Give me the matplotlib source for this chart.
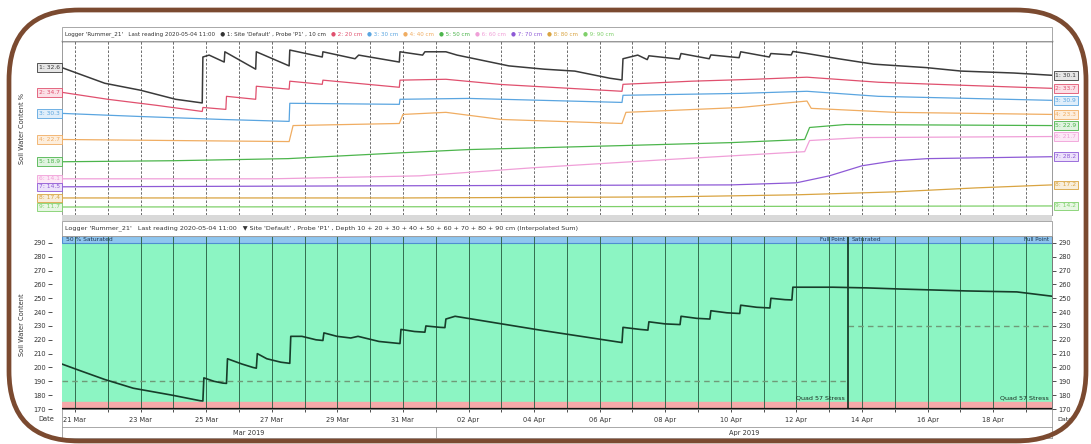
import numpy as np
import pandas as pd
import matplotlib
matplotlib.use("Agg")
import matplotlib.pyplot as plt
import matplotlib.dates as mdates
import matplotlib.ticker as mticker
import matplotlib.transforms as mtransforms
from matplotlib.patches import FancyBboxPatch, Rectangle

# ---- data (days after 21 Mar 2019 00:00) ----
start = pd.Timestamp("2019-03-21 00:00")
x_from = pd.Timestamp("2019-03-20 14:30")
x_to = pd.Timestamp("2019-04-19 19:00")

# bottom panel: interpolated sum, 10..90 cm
sum_days = [-0.40, 0.18, 0.91, 1.78, 2.96, 3.81, 3.90, 3.93, 4.24, 4.51, 4.62, 4.65, 5.09, 5.43,
            5.53, 5.56, 5.85, 6.28, 6.55, 6.58, 6.92, 7.35, 7.56, 7.59, 7.99, 8.41, 8.63, 9.27,
            9.82, 9.91, 9.94, 10.35, 10.67, 10.70, 11.13, 11.28, 11.31, 11.59, 14.18, 16.68,
            16.71, 17.23, 17.47, 17.50, 17.99, 18.45, 18.48, 18.96, 19.36, 19.39, 19.88, 20.27,
            20.30, 20.79, 21.19, 21.22, 21.65, 21.86, 21.89, 23.11, 24.15, 25.15, 27.20, 28.72,
            29.79]
sum_vals = [202.5, 197.5, 191.3, 185.0, 180.0, 176.0, 175.8, 192.5, 190.0, 188.7, 188.5, 206.3,
            202.5, 200.0, 199.5, 210.0, 206.3, 203.8, 203.0, 222.5, 222.5, 220.0, 219.5, 225.0,
            222.5, 221.3, 222.5, 218.8, 217.5, 217.3, 227.5, 226.0, 225.5, 230.0, 229.0, 228.8,
            235.0, 237.0, 227.0, 218.0, 229.0, 227.5, 227.0, 233.0, 231.5, 231.0, 237.0, 235.5,
            235.0, 241.0, 239.5, 239.0, 245.0, 243.5, 243.0, 250.0, 249.0, 248.8, 258.0, 258.0,
            257.5, 256.7, 255.3, 254.6, 251.5]

full_point = 290
stress_point = 175
change_day = 23.57
refill_before = 190
refill_after = 230

# top panel: each depth drawn on its own (normalised) scale, 0..100 of panel height
days_10 = [-0.40, 0.91, 2.00, 3.07, 3.88, 3.90, 4.09, 4.55, 4.57, 5.51, 5.53, 6.53, 6.55, 7.54,
           7.56, 8.54, 8.65, 9.89, 9.91, 10.60, 10.67, 11.31, 11.65, 13.23, 14.31, 15.24, 16.31,
           16.68, 16.71, 17.16, 17.45, 17.50, 18.43, 18.48, 19.34, 19.39, 20.25, 20.30, 21.17,
           21.22, 21.84, 21.89, 22.32, 23.28, 24.35, 25.96, 27.03, 28.63, 29.79]
pos_10 = [84.7, 75.7, 71.7, 66.5, 64.4, 90.8, 91.9, 87.9, 93.8, 83.8, 93.8, 85.7, 94.8, 90.8,
          93.8, 89.8, 91.9, 87.9, 93.8, 91.9, 93.8, 93.8, 91.9, 85.7, 83.8, 82.7, 78.6, 77.6,
          89.8, 91.9, 89.3, 91.5, 89.6, 92.8, 89.8, 92.0, 90.4, 93.8, 90.8, 92.8, 92.0, 94.0,
          92.8, 89.8, 86.7, 84.7, 82.7, 81.6, 80.3]
days_20 = [-0.40, 1.00, 2.50, 3.88, 3.90, 4.60, 4.62, 5.51, 5.53, 6.53, 6.55, 7.54, 7.56, 9.89,
           9.91, 11.31, 13.00, 16.68, 16.71, 18.80, 20.70, 22.32, 24.50, 27.00, 29.79]
pos_20 = [70.5, 66.5, 63.0, 59.5, 61.8, 60.7, 68.2, 66.5, 74.0, 72.3, 76.9, 75.1, 77.5, 73.4,
          77.5, 78.0, 75.0, 71.1, 75.1, 76.9, 78.0, 79.2, 76.3, 74.6, 72.8]
days_30 = [-0.40, 2.00, 4.50, 6.53, 6.55, 9.89, 9.91, 12.00, 16.68, 16.71, 20.30, 22.32, 24.50, 29.79]
pos_30 = [58.4, 56.6, 54.9, 53.8, 64.2, 63.6, 66.5, 67.0, 64.7, 68.8, 69.9, 71.1, 68.2, 65.9]
days_40 = [-0.40, 3.00, 6.53, 6.65, 9.89, 10.00, 11.31, 13.00, 16.68, 16.80, 20.30, 22.32, 22.45,
           25.00, 29.79]
pos_40 = [43.4, 42.8, 42.2, 51.4, 52.6, 57.8, 59.0, 54.9, 52.6, 59.0, 61.8, 65.5, 61.3, 59.0, 57.8]
days_50 = [-0.40, 3.00, 6.50, 10.00, 12.00, 16.70, 20.00, 22.25, 22.40, 23.50, 29.79]
pos_50 = [30.6, 31.2, 32.4, 35.8, 37.6, 39.9, 41.6, 43.4, 50.3, 52.0, 51.4]
days_60 = [-0.40, 6.00, 10.50, 14.00, 18.00, 22.25, 22.40, 24.00, 29.79]
pos_60 = [20.8, 20.8, 22.5, 27.2, 31.8, 36.4, 42.8, 44.5, 45.1]
days_70 = [-0.40, 10.00, 20.00, 22.00, 23.00, 24.00, 25.00, 26.00, 29.79]
pos_70 = [16.2, 16.8, 17.3, 18.5, 22.5, 28.3, 31.2, 32.4, 33.5]
days_80 = [-0.40, 10.00, 18.00, 22.00, 25.00, 27.50, 29.79]
pos_80 = [9.8, 9.8, 10.4, 11.6, 13.3, 15.6, 17.3]
days_90 = [-0.40, 15.00, 29.79]
pos_90 = [4.6, 4.8, 5.2]

depths = ["10 cm", "20 cm", "30 cm", "40 cm", "50 cm", "60 cm", "70 cm", "80 cm", "90 cm"]
first_readings = ["1: 32.6", "2: 34.7", "3: 30.3", "4: 22.7", "5: 18.9", "6: 14.1", "7: 14.5",
                  "8: 17.4", "9: 11.7"]
last_readings = ["1: 30.1", "2: 33.7", "3: 30.9", "4: 23.3", "5: 22.9", "6: 21.7", "7: 28.2",
                 "8: 17.2", "9: 14.2"]
colors = ["#3a3a3a", "#e0506e", "#5aa5e0", "#f0ad62", "#4cb54c", "#f09fd8", "#8e5ad6",
          "#d9a441", "#7fd06a"]
tints = ["#e6e6e6", "#fbe0e6", "#e0eefa", "#fdeedd", "#e0f3e0", "#fce8f6", "#ece2fa",
         "#f8eedb", "#e8f7e4"]


def to_time(days):
    return start + pd.to_timedelta(np.asarray(days, dtype=float), unit="D")


W, H = 1091, 444


def frac(x0, y0, x1, y1):
    return [x0 / W, 1 - y1 / H, (x1 - x0) / W, (y1 - y0) / H]


plt.rcParams["font.family"] = "DejaVu Sans"
fig = plt.figure(figsize=(W / 100, H / 100), dpi=100)
fig.patch.set_facecolor("white")

# ---- top panel ----
ax_top = fig.add_axes(frac(62, 41, 1052, 215))
ax_top.set_xlim(x_from, x_to)
ax_top.set_ylim(0, 100)
ax_top.set_xticks([])
ax_top.set_yticks([])
for s in ax_top.spines.values():
    s.set_color("#9a9a9a")
    s.set_linewidth(0.7)
ax_top.spines["top"].set_color("#222222")
ax_top.spines["top"].set_linewidth(1.0)

for d in pd.date_range("2019-03-21", "2019-04-19", freq="D"):
    ax_top.axvline(d, color="#555555", lw=0.6, ls=(0, (3, 2)), zorder=1)

series = [(days_10, pos_10), (days_20, pos_20), (days_30, pos_30), (days_40, pos_40),
          (days_50, pos_50), (days_60, pos_60), (days_70, pos_70), (days_80, pos_80),
          (days_90, pos_90)]
for i, (d, p) in enumerate(series):
    ax_top.plot(to_time(d), p, color=colors[i], lw=1.1 if i == 0 else 0.9, zorder=3)
    box = dict(boxstyle="square,pad=0.3", fc=tints[i], ec=colors[i], lw=0.6)
    ax_top.annotate(first_readings[i], xy=(0, p[0]), xycoords=("axes fraction", "data"),
                    xytext=(-1.5, 0), textcoords="offset points", ha="right", va="center",
                    fontsize=4.3, color=colors[i], bbox=box, annotation_clip=False)
    ax_top.annotate(last_readings[i], xy=(1, p[-1]), xycoords=("axes fraction", "data"),
                    xytext=(2.5, 0), textcoords="offset points", ha="left", va="center",
                    fontsize=4.3, color=colors[i], bbox=box, annotation_clip=False)

# ---- bottom panel ----
ax_bot = fig.add_axes(frac(62, 236, 1052, 409))
ax_bot.set_xlim(x_from, x_to)
ax_bot.set_ylim(170, 295)
change = start + pd.Timedelta(days=change_day)

ax_bot.axhspan(stress_point, full_point, color="#8cf5c3", zorder=0)
ax_bot.axhspan(170, stress_point, color="#f6a9a9", zorder=0)
ax_bot.axhspan(full_point, 295, fc="#8fc6ef", ec="#4f8fd0", lw=0.8, zorder=0)

for d in pd.date_range("2019-03-21", "2019-04-19", freq="D"):
    ax_bot.axvline(d, color="#2c6447", lw=0.65, zorder=1)

ax_bot.plot([x_from, change], [refill_before, refill_before], color="#6f9a78", lw=1.0,
            ls=(0, (4, 3)), zorder=2)
ax_bot.plot([change, x_to], [refill_after, refill_after], color="#6f9a78", lw=1.0,
            ls=(0, (4, 3)), zorder=2)
ax_bot.axvline(change, color="#10301f", lw=1.2, zorder=3)
ax_bot.axhline(170, color="#111111", lw=1.6, zorder=4)

ax_bot.plot(to_time(sum_days), sum_vals, color="#173d2a", lw=1.2, zorder=5)

ax_bot.text(x_from + pd.Timedelta(hours=3), 292.6, "50 % Saturated", fontsize=4.3,
            va="center", color="#1d3550")
ax_bot.text(change - pd.Timedelta(hours=2), 292.6, "Full Point", fontsize=4.1,
            va="center", ha="right", color="#1d3550")
ax_bot.text(change + pd.Timedelta(hours=3), 292.6, "Saturated", fontsize=4.3,
            va="center", color="#1d3550")
ax_bot.text(x_to - pd.Timedelta(hours=2), 292.6, "Full Point", fontsize=4.1,
            va="center", ha="right", color="#1d3550")
ax_bot.text(change - pd.Timedelta(hours=2), 176, "Quad 57 Stress", fontsize=4.6,
            va="bottom", ha="right", color="#1a2a20")
ax_bot.text(x_to - pd.Timedelta(hours=2), 176, "Quad 57 Stress", fontsize=4.6,
            va="bottom", ha="right", color="#1a2a20")

yt = list(range(170, 291, 10))
ax_bot.set_yticks(yt)
ax_bot.spines["left"].set_position(("outward", 7))
ax_bot.spines["left"].set_visible(False)
ax_bot.tick_params(axis="y", labelsize=4.8, length=3, pad=1.5, colors="#333333",
                   width=0.6)
ax_r = ax_bot.twinx()
ax_r.set_ylim(170, 295)
ax_r.set_yticks(yt)
ax_r.tick_params(axis="y", labelsize=4.8, length=3, pad=1.5, colors="#333333", width=0.6)
for a in (ax_bot, ax_r):
    for s in ("top", "right", "bottom"):
        a.spines[s].set_color("#777777")
        a.spines[s].set_linewidth(0.6)
ax_r.spines["left"].set_visible(False)

label_days = pd.date_range("2019-03-21", "2019-04-18", freq="2D")
ax_bot.xaxis.set_major_locator(mticker.FixedLocator(mdates.date2num(label_days)))
ax_bot.xaxis.set_major_formatter(mdates.DateFormatter("%d %b"))
ax_bot.xaxis.set_minor_locator(mdates.DayLocator())
ax_bot.tick_params(axis="x", which="major", labelsize=4.8, length=2, pad=3.5,
                   colors="#333333", width=0.6)
ax_bot.tick_params(axis="x", which="minor", length=2, width=0.6, colors="#333333")

trans = mtransforms.blended_transform_factory(ax_bot.transData, ax_bot.transAxes)
apr1 = pd.Timestamp("2019-04-01")
row_kw = dict(color="#9a9a9a", lw=0.6, clip_on=False)
ax_bot.plot([0, 1], [-0.104, -0.104], transform=ax_bot.transAxes, **row_kw)
ax_bot.plot([0, 1], [-0.168, -0.168], transform=ax_bot.transAxes, **row_kw)
ax_bot.plot([0, 0], [0, -0.168], transform=ax_bot.transAxes, **row_kw)
ax_bot.plot([1, 1], [0, -0.168], transform=ax_bot.transAxes, **row_kw)
ax_bot.plot([apr1, apr1], [-0.104, -0.168], transform=trans, **row_kw)
ax_bot.text(x_from + (apr1 - x_from) / 2, -0.137, "Mar 2019", transform=trans,
            ha="center", va="center", fontsize=4.8, color="#333333")
ax_bot.text(apr1 + (x_to - apr1) / 2, -0.137, "Apr 2019", transform=trans,
            ha="center", va="center", fontsize=4.8, color="#333333")
ax_bot.text(-0.008, -0.058, "Date", transform=ax_bot.transAxes, ha="right", va="center",
            fontsize=4.8, color="#333333")
ax_bot.text(1.005, -0.058, "Date", transform=ax_bot.transAxes, ha="left", va="center",
            fontsize=4.6, color="#333333")

fig.text(22 / W, 1 - 128 / H, "Soil Water Content %", rotation=90, fontsize=4.8,
         ha="center", va="center", color="#333333")
fig.text(22 / W, 1 - 325 / H, "Soil Water Content", rotation=90, fontsize=4.8,
         ha="center", va="center", color="#333333")

# ---- overlay: title bars and frame ----
ov = fig.add_axes([0, 0, 1, 1])
ov.set_xlim(0, W)
ov.set_ylim(H, 0)
ov.axis("off")
ov.add_patch(Rectangle((62, 27), 990, 14, fc="white", ec="#9a9a9a", lw=0.6))
ov.add_patch(Rectangle((62, 215), 990, 6, fc="#d9d9d9", ec="none"))
ov.add_patch(Rectangle((62, 221), 990, 15, fc="white", ec="#9a9a9a", lw=0.6))

top_parts = [("Logger 'Rummer_21'   Last reading 2020-05-04 11:00   \u25cf 1: Site 'Default' ,"
              " Probe 'P1' , " + depths[0], "#333333")]
for i in range(1, 9):
    top_parts.append(("\u25cf %d: %s" % (i + 1, depths[i]), colors[i]))
prev = ov.text(65, 34, top_parts[0][0], fontsize=4.1, color=top_parts[0][1], va="center")
for txt, c in top_parts[1:]:
    prev = ov.annotate(txt, xy=(1, 0.5), xycoords=prev, xytext=(3.5, 0),
                       textcoords="offset points", va="center", ha="left",
                       fontsize=4.1, color=c)
ov.text(65, 228.5, "Logger 'Rummer_21'   Last reading 2020-05-04 11:00   \u25bc Site 'Default' ,"
        " Probe 'P1' , Depth " + " + ".join(d.split()[0] for d in depths)
        + " cm (Interpolated Sum)", fontsize=4.55, color="#333333", va="center")

ov.add_patch(FancyBboxPatch((9, 10), 1077, 431, boxstyle="round,pad=0,rounding_size=70",
                            fc="none", ec="#7b4a30", lw=3.4, mutation_aspect=1))

fig.savefig("out.png", dpi=100, facecolor="white")
